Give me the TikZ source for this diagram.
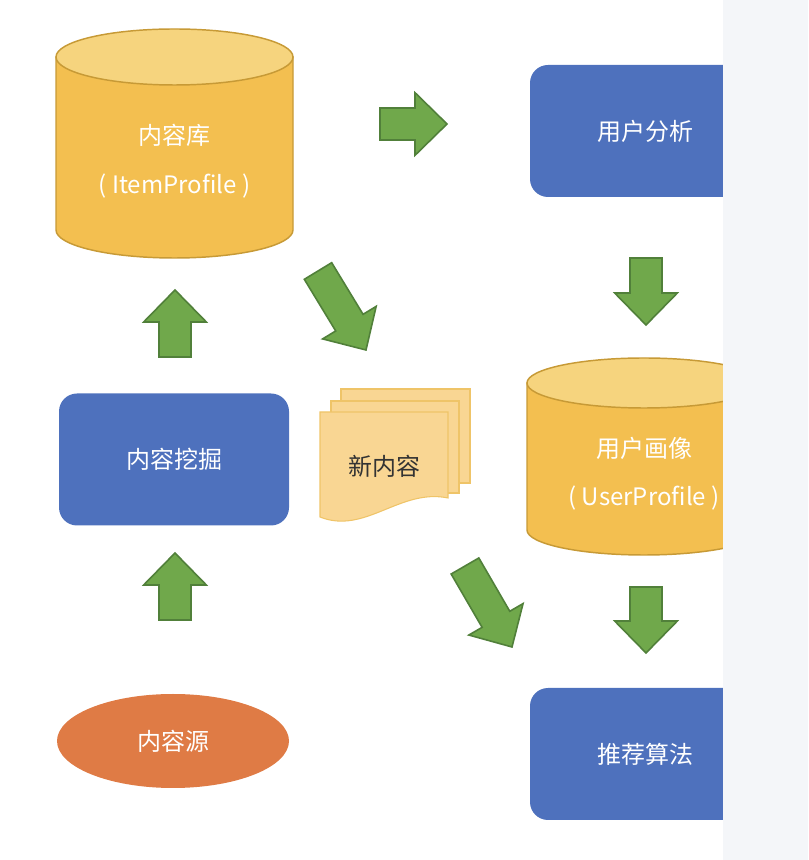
\documentclass[tikz,border=0pt]{standalone}
\usepackage{fontspec}
\setmainfont{Noto Sans CJK SC}
\usetikzlibrary{calc,shapes.geometric}
\definecolor{recoblue}{HTML}{4E71BD}
\definecolor{recogold}{HTML}{F3BF50}
\definecolor{recogoldtop}{HTML}{F6D47E}
\definecolor{recogoldline}{HTML}{C79A36}
\definecolor{recogreen}{HTML}{70A84B}
\definecolor{recogreenline}{HTML}{51803A}
\definecolor{recoorange}{HTML}{DF7B45}
\definecolor{recopaper}{HTML}{F9D693}
\definecolor{recopaperline}{HTML}{EFC468}
\definecolor{recopanel}{HTML}{F4F6F9}

% cylinder: centre x, top y, bottom y, x radius, y radius
\newcommand\dbcyl[5]{%
  \filldraw[dbbody] (#1-#4,#2) -- (#1-#4,#3)
    arc[start angle=180, end angle=360, x radius=#4, y radius=#5] -- (#1+#4,#2) -- cycle;
  \filldraw[dbtop] (#1,#2) ellipse [x radius=#4, y radius=#5];
}
% block arrow from tail to tip
\newcommand\fatarrow[2]{%
  \coordinate (fa-base) at ($(#2)!24pt!(#1)$);
  \filldraw[fatarrow] ($(#1)!12pt!90:(#2)$) -- ($(fa-base)!12pt!-90:(#1)$)
    -- ($(fa-base)!23.5pt!-90:(#1)$) -- (#2) -- ($(fa-base)!23.5pt!90:(#1)$)
    -- ($(fa-base)!12pt!90:(#1)$) -- ($(#1)!12pt!-90:(#2)$) -- cycle;
}

\begin{document}
\begin{tikzpicture}[x=0.75pt, y=0.75pt,
  every node/.style={font=\fontsize{18}{22}\selectfont},
  box/.style={fill=recoblue, rounded corners=13.5pt, minimum width=172.5pt,
              minimum height=99pt, text=white},
  source/.style={ellipse, fill=recoorange, minimum width=174pt,
                 minimum height=70.5pt, inner sep=0pt, text=white},
  dbbody/.style={fill=recogold, draw=recogoldline, line width=1.1pt},
  dbtop/.style={fill=recogoldtop, draw=recogoldline, line width=1.1pt},
  sheet/.style={fill=recopaper, draw=recopaperline, line width=0.8pt},
  fatarrow/.style={fill=recogreen, draw=recogreenline, line width=1.2pt}
]
\useasboundingbox (0,0) rectangle (808,860);

% content side
\dbcyl{174.5}{803}{630}{118.5}{28}
\node[text=white] (itemdb) at (174.5,725) {内容库};
\node[text=white] (itemprof) at (174.5,674) {( ItemProfile )};
\node[box] (mining) at (174,400.5) {内容挖掘};
\node[source] (source) at (173,119) {内容源};

% new content
\filldraw[sheet] (341,471) rectangle (470,377);
\filldraw[sheet] (331,459) rectangle (459,367);
\filldraw[sheet] (320,448) -- (448,448) -- (448,362)
  .. controls (400,372) and (365,325) .. (320,343) -- cycle;
\node[text=black!80] (newitem) at (384,394) {新内容};

% user side
\node[box] (analysis) at (645,729) {用户分析};
\dbcyl{644}{477}{330}{117}{25}
\node[text=white] (userdb) at (644,412) {用户画像};
\node[text=white] (userprof) at (644,362) {( UserProfile )};
\node[box] (recalgo) at (645,106) {推荐算法};

% arrows
\coordinate (toanalysis-s) at (380,736);
\coordinate (toanalysis-e) at (447,736);
\coordinate (tonew-s) at (318,589);
\coordinate (tonew-e) at (366,510);
\coordinate (mineup-s) at (175,503);
\coordinate (mineup-e) at (175,570);
\coordinate (srcup-s) at (175,240);
\coordinate (srcup-e) at (175,307);
\coordinate (profdown-s) at (646,602);
\coordinate (profdown-e) at (646,535);
\coordinate (algodown-s) at (646,273);
\coordinate (algodown-e) at (646,207);
\coordinate (newalgo-s) at (465,294);
\coordinate (newalgo-e) at (512,213);
\fatarrow{toanalysis-s}{toanalysis-e}
\fatarrow{tonew-s}{tonew-e}
\fatarrow{mineup-s}{mineup-e}
\fatarrow{srcup-s}{srcup-e}
\fatarrow{profdown-s}{profdown-e}
\fatarrow{algodown-s}{algodown-e}
\fatarrow{newalgo-s}{newalgo-e}

% side panel
\fill[recopanel] (723,0) rectangle (808,860);
\end{tikzpicture}
\end{document}
